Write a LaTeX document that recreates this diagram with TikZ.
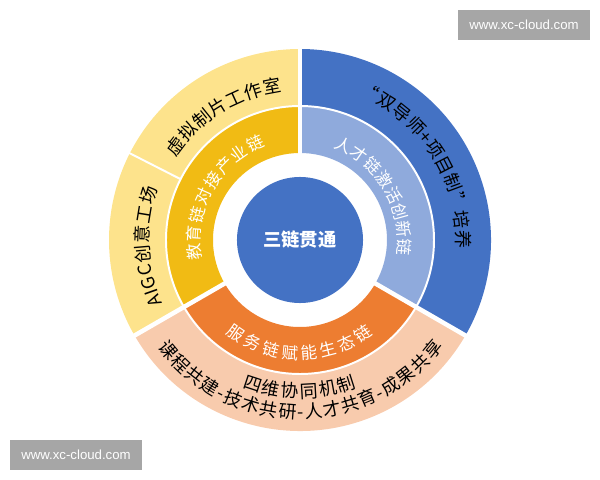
\documentclass[tikz,border=0pt]{standalone}
\usepackage{fontspec}
\newfontfamily\cjk{Noto Sans CJK SC}
\newfontfamily\wmfont{Liberation Sans}
\usetikzlibrary{decorations.text}
\definecolor{yellowL}{HTML}{FDE38C}
\definecolor{goldM}{HTML}{F1BB14}
\definecolor{blueD}{HTML}{4472C4}
\definecolor{blueL}{HTML}{8FAADC}
\definecolor{orangeM}{HTML}{ED7D31}
\definecolor{peachL}{HTML}{F8CBAD}
\definecolor{wmgray}{HTML}{A6A6A6}
\newcommand\ofont{\cjk\fontsize{12.8}{14}\selectfont}
\newcommand\ifont{\cjk\fontsize{11.8}{13}\selectfont}
\newcommand\ringsector[5]{%
  \fill[#1] (#2:#4) -- (#2:#5) arc[start angle=#2, end angle=#3, radius=#5]
    -- (#3:#4) arc[start angle=#3, end angle=#2, radius=#4] -- cycle;}
\tikzset{
  arctext/.style 2 args={decorate, decoration={text along path,
      text align=fit to path, text color=#1, text={#2}}},
  gapline/.style={white, line width=3.2pt},
  thinline/.style={white, line width=1.4pt},
  watermark/.style={fill=wmgray, minimum width=3.3cm, minimum height=0.75cm,
      inner sep=0pt, text=white, font=\wmfont\fontsize{9.4}{11}\selectfont}
}
\begin{document}
\begin{tikzpicture}[x=0.025cm, y=0.025cm]
\useasboundingbox (-300,-240) rectangle (300,240);
% inner ring
\ringsector{goldM}{90}{210}{87}{134}
\ringsector{blueL}{-30}{90}{87}{134}
\ringsector{orangeM}{210}{330}{87}{134}
% outer ring
\ringsector{yellowL}{90}{153}{134}{191}
\ringsector{yellowL}{153}{210}{134}{191}
\ringsector{blueD}{-30}{90}{134}{191}
\ringsector{peachL}{210}{330}{134}{191}
% separators
\draw[thinline] (0,0) circle[radius=134];
\draw[gapline] (90:85) -- (90:193);
\draw[gapline] (-30:85) -- (-30:193);
\draw[gapline] (210:85) -- (210:193);
\draw[thinline] (153:134) -- (153:193);
% centre
\node[circle, fill=blueD, minimum size=3.15cm, inner sep=0pt, text=white,
  font=\cjk\bfseries\fontsize{13}{15}\selectfont] (core) at (0,0) {三链贯通};
% curved texts
\path[arctext={black}{|\ofont|“双导师+项目制”培养}]
  (68:156.2) arc[start angle=68, end angle=-3, radius=156.2];
\path[arctext={white}{|\ifont|人才链激活创新链}]
  (70:97.7) arc[start angle=70, end angle=-9, radius=97.7];
\path[arctext={white}{|\ifont|教育链对接产业链}]
  (191.5:99.7) arc[start angle=191.5, end angle=110, radius=99.7];
\path[arctext={white}{|\ifont|服务链赋能生态链}]
  (231.5:119.3) arc[start angle=231.5, end angle=308, radius=119.3];
\path[arctext={black}{|\ofont|虚拟制片工作室}]
  (146.5:149.2) arc[start angle=146.5, end angle=97, radius=149.2];
\path[arctext={black}{|\ofont|AIGC创意工场}]
  (205:151.2) arc[start angle=205, end angle=160, radius=151.2];
\path[arctext={black}{|\ofont|四维协同机制}]
  (248.5:157.8) arc[start angle=248.5, end angle=291, radius=157.8];
\path[arctext={black}{|\ofont|课程共建-技术共研-人才共育-成果共享}]
  (217:178.8) arc[start angle=217, end angle=323.3, radius=178.8];
% watermarks
\node[watermark] (wm1) at (224,215) {www.xc-cloud.com};
\node[watermark] (wm2) at (-224,-215) {www.xc-cloud.com};
\end{tikzpicture}
\end{document}
